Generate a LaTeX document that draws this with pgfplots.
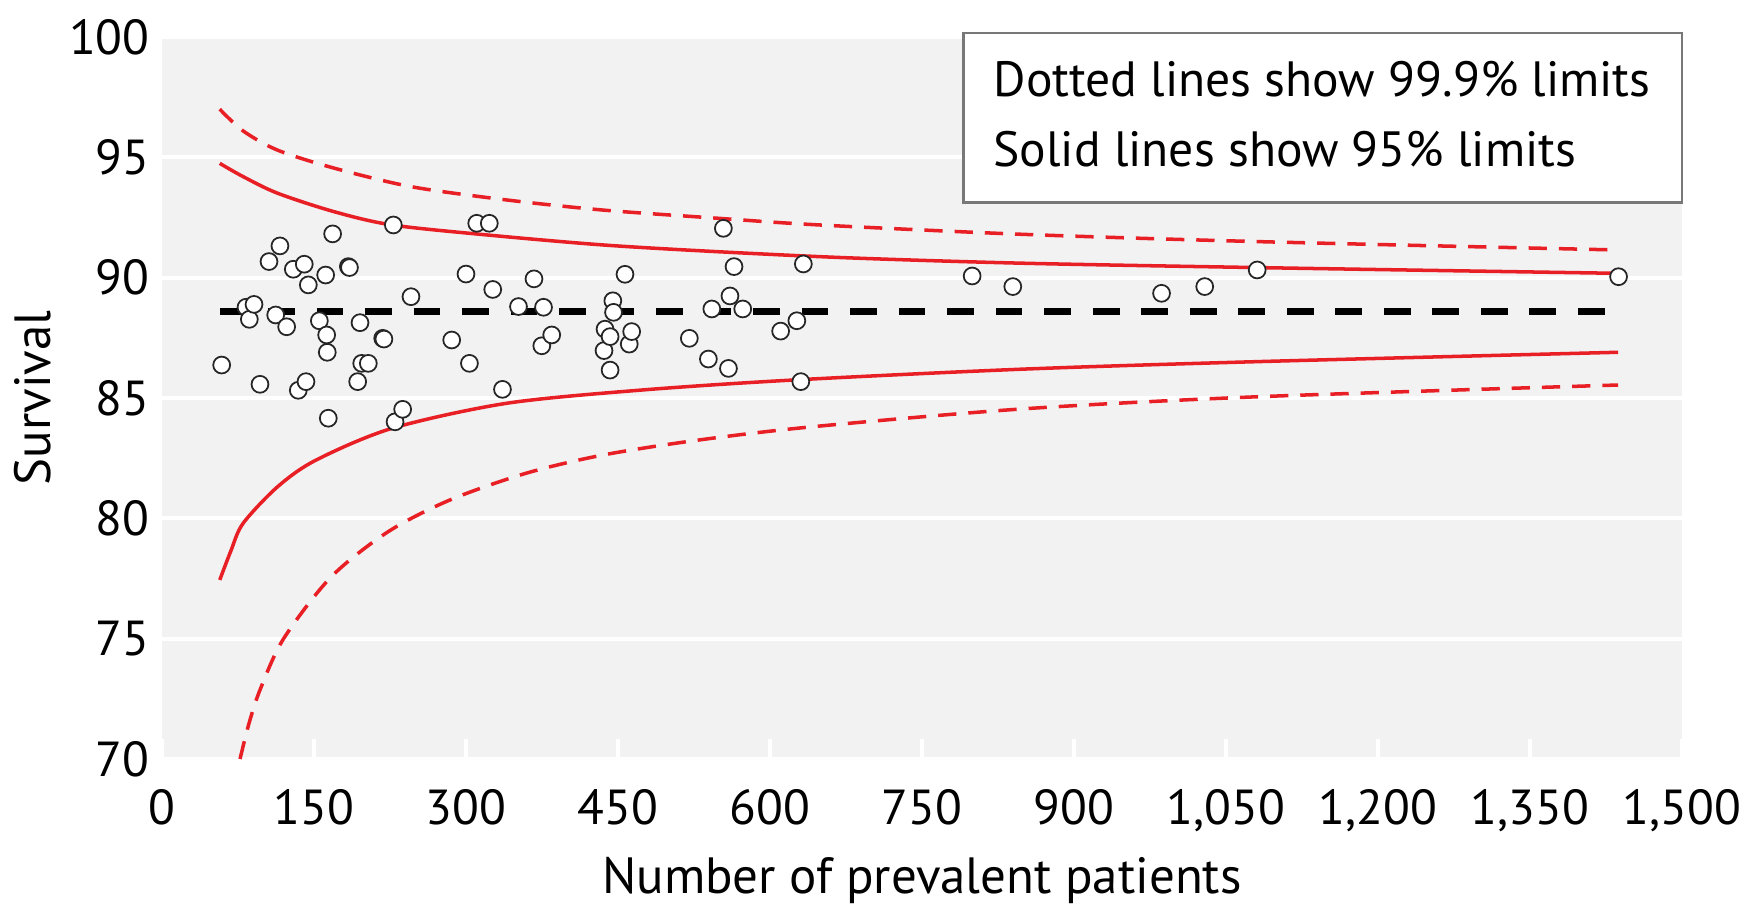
\documentclass[border=0pt]{standalone}
\usepackage{fontspec}
\setmainfont{PT Sans}
\usepackage{pgfplots}
\pgfplotsset{compat=1.18}
\definecolor{bg}{RGB}{242,242,242}
\definecolor{fred}{RGB}{232,32,38}
\definecolor{boxgray}{RGB}{120,120,120}

\begin{document}
\begin{tikzpicture}
\begin{axis}[
  width=152mm, height=72.2mm, scale only axis,
  xmin=0, xmax=1500, ymin=70, ymax=100,
  xtick={0,150,...,1500}, ytick={70,75,...,100},
  axis background/.style={fill=bg},
  axis line style={draw=none},
  ymajorgrids, grid style={white, line width=1.1pt},
  xtick pos=bottom, tick align=inside, major tick length=2mm,
  xtick style={white, line width=1.1pt},
  ytick style={draw=none},
  scaled x ticks=false,
  /pgf/number format/fixed,
  /pgf/number format/1000 sep={,},
  /pgf/number format/assume math mode=true,
  ticklabel style={font=\fontsize{14}{16}\selectfont},
  xticklabel style={yshift=-1.8mm},
  xlabel={Number of prevalent patients},
  ylabel={Survival},
  every axis x label/.style={at={(axis description cs:0.5,-0.168)}, anchor=center,
    font=\fontsize{14.5}{17}\selectfont},
  every axis y label/.style={at={(axis description cs:-0.085,0.5)}, anchor=center,
    rotate=90, font=\fontsize{14.5}{17}\selectfont},
  clip=false,
]
% 99.9% limits (dashed red)
\addplot[fred, line width=1pt, dash pattern=on 5.2pt off 3.4pt, smooth] coordinates {
  (57,97.0) (80,96.1) (114,95.3) (170,94.55) (246,93.78) (340,93.23) (435,92.81)
  (548,92.47) (649,92.19) (850,91.8) (1080,91.5) (1437,91.15)
};
\addplot[fred, line width=1pt, dash pattern=on 5.2pt off 3.4pt, smooth] coordinates {
  (77,70) (86,71.5) (97,72.9) (120,75) (167,77.57) (223,79.44) (284,80.76)
  (359,81.87) (435,82.63) (529,83.25) (643,83.81) (850,84.55) (1080,85.05) (1437,85.54)
};
% 95% limits (solid red)
\addplot[fred, line width=1pt, smooth] coordinates {
  (57,94.75) (80,94.2) (114,93.51) (170,92.74) (227,92.19) (322,91.77) (435,91.36)
  (548,91.08) (680,90.82) (850,90.6) (1080,90.42) (1437,90.18)
};
\addplot[fred, line width=1pt, smooth] coordinates {
  (57,77.44) (68,78.65) (80,79.79) (114,81.31) (152,82.42) (227,83.74) (340,84.78)
  (473,85.33) (624,85.75) (850,86.2) (1080,86.51) (1437,86.9)
};
% mean
\addplot[black, line width=1.9pt, dash pattern=on 7.6pt off 6.2pt] coordinates {
  (57,88.6) (1437,88.6)
};
% units
\addplot[only marks, mark=*, mark size=2.4pt,
  mark options={fill=white, draw=black!85, line width=0.5pt}] coordinates {
  (58.9,86.37) (82.9,88.77) (86.2,88.27) (90.8,88.89) (96.7,85.57) (105.6,90.67)
  (112.2,88.45) (116.4,91.32) (123.0,87.96) (129.6,90.35) (134.5,85.32) (140.4,90.56)
  (142.1,85.68) (144.4,89.70) (155.3,88.21) (161.5,90.11) (162.5,87.62) (163.1,86.90)
  (164.1,84.16) (168.4,91.82) (183.9,90.46) (185.0,90.42) (193.1,85.68) (195.4,88.13)
  (197.1,86.44) (203.6,86.44) (217.8,87.48) (219.0,87.45) (228.3,92.19) (230.0,84.01)
  (237.5,84.53) (245.7,89.21) (285.9,87.41) (300.0,90.15) (303.4,86.44) (310.6,92.26)
  (323.0,92.26) (326.4,89.51) (336.0,85.36) (351.8,88.80) (367.1,89.95) (374.8,87.17)
  (376.5,88.77) (384.6,87.62) (436.2,86.97) (437.2,87.86) (442.2,87.55) (442.2,86.16)
  (444.9,89.04) (445.6,88.56) (456.9,90.14) (461.1,87.24) (463.5,87.76) (520.4,87.48)
  (539.2,86.62) (542.6,88.70) (554.0,92.05) (560.5,89.24) (559.0,86.23) (564.5,90.46)
  (573.1,88.70) (610.5,87.78) (626.5,88.21) (630.4,85.68) (632.9,90.57) (799.5,90.07)
  (839.6,89.63) (986.4,89.35) (1029,89.63) (1080.8,90.32) (1437.4,90.04)
};
% note box
\draw[boxgray, line width=0.7pt, fill=white] (axis cs:791,93.13) rectangle (axis cs:1500,100.16);
\node[anchor=base west, inner sep=0, font=\fontsize{14.1}{17}\selectfont]
  at (axis cs:820,97.52) {Dotted lines show 99.9\% limits};
\node[anchor=base west, inner sep=0, font=\fontsize{14.1}{17}\selectfont]
  at (axis cs:820,94.61) {Solid lines show 95\% limits};
\end{axis}
\pgfresetboundingbox
\path[use as bounding box] (-16.2mm,-15.3mm) rectangle (159.2mm,75.9mm);
\end{tikzpicture}
\end{document}
